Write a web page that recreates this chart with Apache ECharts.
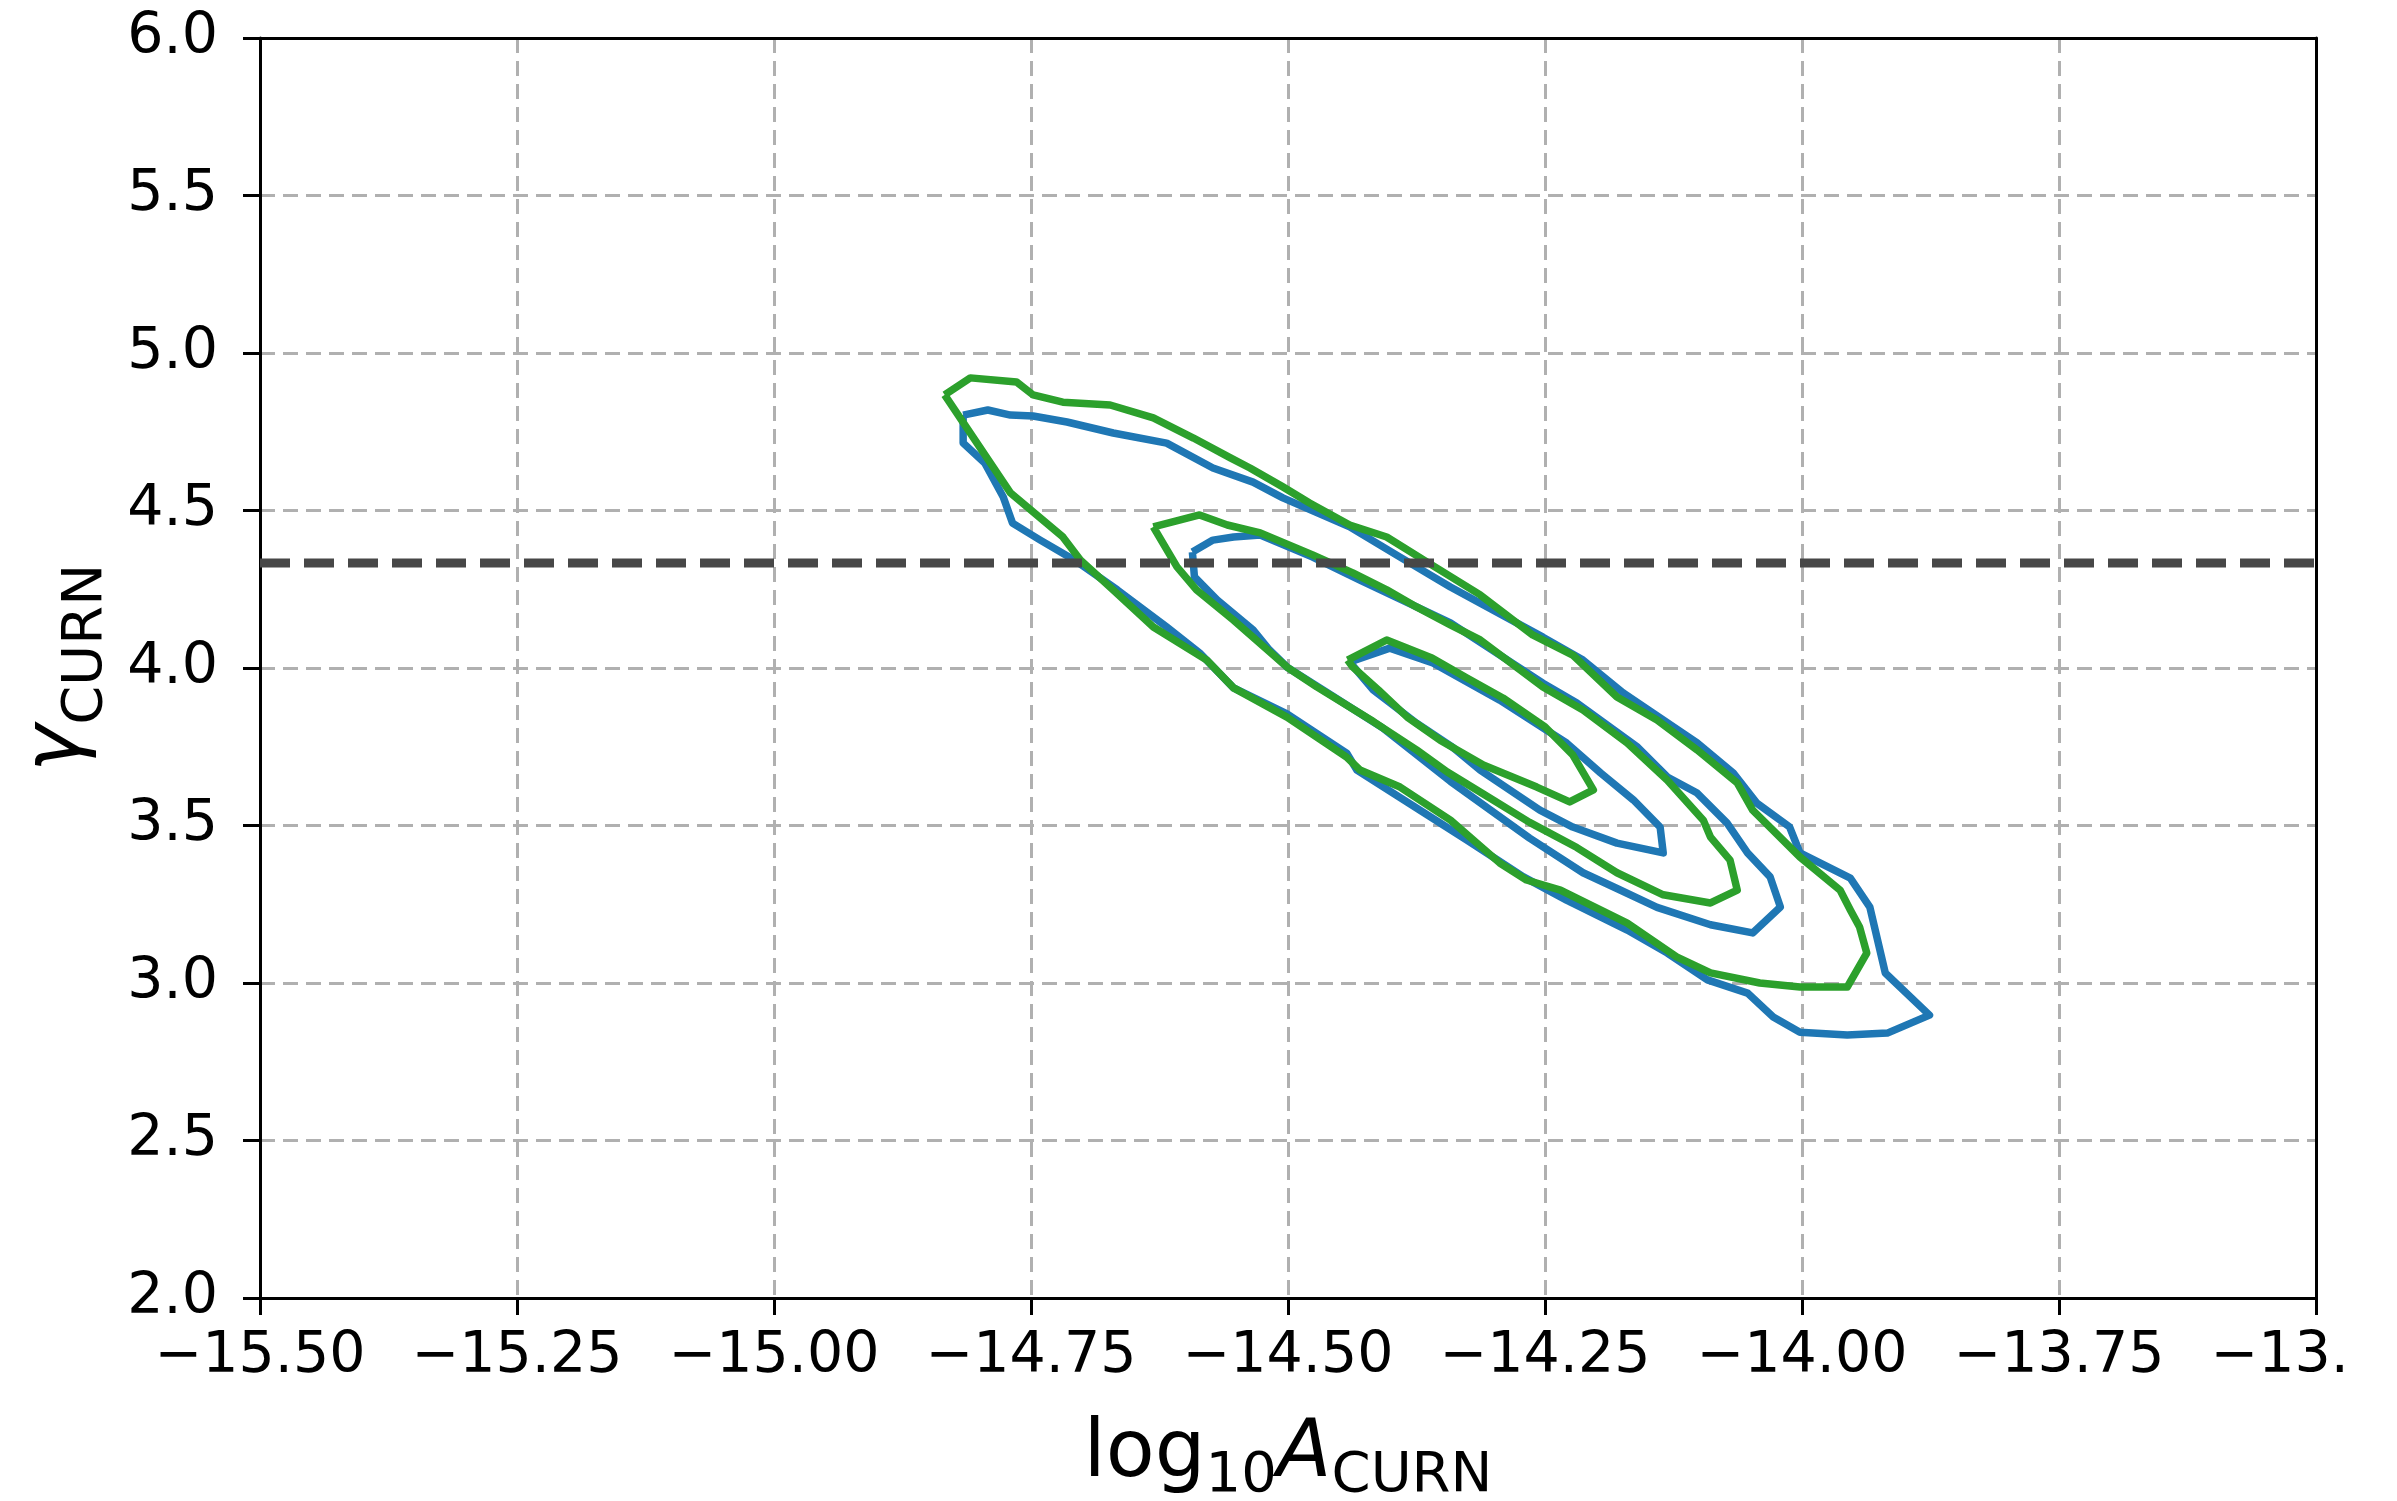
<!DOCTYPE html>
<html><head><meta charset="utf-8">
<script src="https://cdn.jsdelivr.net/npm/echarts@6/dist/echarts.min.js"></script>
<style>html,body{margin:0;padding:0;background:#fff}#c{width:2397px;height:1501px}</style>
</head><body><div id="c"></div>
<script>
// axis ranges / ticks
const xRange = [-15.5, -13.5];
const xStep = 0.25;
const yRange = [2.0, 6.0];
const yStep = 0.5;
// reference gamma (dashed line)
const refGamma = [4.333];

// contour polygons [log10A, gamma]
const blueOuter = [[-14.816,4.803],[-14.792,4.819],[-14.770,4.803],[-14.748,4.800],[-14.715,4.781],[-14.670,4.746],[-14.618,4.714],[-14.573,4.635],[-14.534,4.590],[-14.505,4.540],[-14.440,4.448],[-14.391,4.352],[-14.342,4.257],[-14.252,4.098],[-14.213,4.025],[-14.174,3.921],[-14.102,3.762],[-14.067,3.667],[-14.044,3.571],[-14.012,3.495],[-14.002,3.413],[-13.953,3.333],[-13.934,3.241],[-13.919,3.032],[-13.876,2.898],[-13.917,2.841],[-13.956,2.835],[-14.002,2.844],[-14.028,2.892],[-14.053,2.968],[-14.092,3.010],[-14.131,3.095],[-14.170,3.168],[-14.229,3.263],[-14.271,3.337],[-14.326,3.454],[-14.433,3.676],[-14.443,3.730],[-14.501,3.854],[-14.553,3.937],[-14.586,4.048],[-14.618,4.130],[-14.666,4.248],[-14.705,4.337],[-14.741,4.406],[-14.768,4.460],[-14.777,4.543],[-14.795,4.651],[-14.816,4.714]];
const blueMiddle = [[-14.593,4.368],[-14.573,4.406],[-14.553,4.416],[-14.527,4.422],[-14.476,4.352],[-14.430,4.279],[-14.342,4.143],[-14.252,3.952],[-14.219,3.889],[-14.160,3.749],[-14.131,3.654],[-14.102,3.603],[-14.073,3.508],[-14.053,3.413],[-14.031,3.337],[-14.021,3.241],[-14.048,3.159],[-14.089,3.185],[-14.141,3.240],[-14.180,3.300],[-14.213,3.350],[-14.265,3.460],[-14.342,3.640],[-14.408,3.810],[-14.456,3.910],[-14.501,4.003],[-14.518,4.057],[-14.534,4.121],[-14.569,4.216],[-14.591,4.289]];
const blueInner = [[-14.440,4.019],[-14.401,4.063],[-14.359,4.016],[-14.294,3.898],[-14.229,3.762],[-14.196,3.667],[-14.164,3.581],[-14.138,3.495],[-14.135,3.413],[-14.180,3.444],[-14.223,3.495],[-14.255,3.549],[-14.313,3.676],[-14.340,3.749],[-14.375,3.825],[-14.417,3.930]];
const greenOuter = [[-14.834,4.867],[-14.809,4.921],[-14.764,4.908],[-14.748,4.867],[-14.719,4.844],[-14.673,4.835],[-14.631,4.794],[-14.592,4.730],[-14.556,4.667],[-14.537,4.635],[-14.505,4.575],[-14.479,4.524],[-14.440,4.454],[-14.404,4.416],[-14.365,4.337],[-14.313,4.232],[-14.262,4.105],[-14.223,4.041],[-14.180,3.908],[-14.141,3.835],[-14.102,3.740],[-14.063,3.635],[-14.048,3.549],[-14.002,3.400],[-13.963,3.295],[-13.953,3.232],[-13.944,3.178],[-13.937,3.095],[-13.956,2.987],[-14.002,2.987],[-14.041,3.000],[-14.089,3.032],[-14.122,3.083],[-14.170,3.190],[-14.235,3.295],[-14.268,3.327],[-14.294,3.381],[-14.342,3.517],[-14.391,3.622],[-14.430,3.676],[-14.443,3.717],[-14.501,3.844],[-14.553,3.937],[-14.579,4.025],[-14.631,4.130],[-14.670,4.248],[-14.702,4.343],[-14.719,4.416],[-14.770,4.556]];
const greenMiddle = [[-14.631,4.448],[-14.586,4.486],[-14.559,4.454],[-14.527,4.429],[-14.476,4.359],[-14.437,4.302],[-14.404,4.248],[-14.375,4.194],[-14.342,4.137],[-14.313,4.089],[-14.252,3.940],[-14.213,3.867],[-14.170,3.762],[-14.131,3.644],[-14.096,3.517],[-14.089,3.463],[-14.070,3.390],[-14.063,3.295],[-14.089,3.254],[-14.135,3.280],[-14.180,3.350],[-14.219,3.430],[-14.265,3.510],[-14.310,3.600],[-14.345,3.670],[-14.375,3.740],[-14.417,3.830],[-14.472,3.940],[-14.501,4.003],[-14.553,4.152],[-14.589,4.248],[-14.608,4.321]];
const greenInner = [[-14.442,4.025],[-14.404,4.089],[-14.360,4.032],[-14.326,3.968],[-14.291,3.905],[-14.250,3.813],[-14.223,3.724],[-14.203,3.613],[-14.226,3.575],[-14.258,3.622],[-14.310,3.692],[-14.352,3.771],[-14.384,3.844],[-14.412,3.930],[-14.437,4.003]];

const FONT = 'DejaVu Sans';
const BLUE = '#1f77b4', GREEN = '#2ca02c';
const closed = a => a.concat([a[0]]);
const minus = s => s.replace('-', '\u2212');

function contour(name, data, color, z) {
  return {
    type: 'line', name, data: closed(data), symbol: 'none', showSymbol: false,
    smooth: false, silent: true, z, clip: true,
    lineStyle: { color, width: 7.5, join: 'round' }, itemStyle: { color }
  };
}
const spine = { show: true, onZero: false, lineStyle: { color: '#000', width: 3 } };
const gridLine = { show: true, showMinLine: false, showMaxLine: false,
                   lineStyle: { color: '#b0b0b0', width: 3, type: [15, 8] } };
const subRich = (pad) => ({
  a: { fontFamily: FONT, fontSize: 80, lineHeight: 96, verticalAlign: 'top', color: '#000' },
  i: { fontFamily: FONT, fontSize: 80, fontStyle: 'italic', lineHeight: 96, verticalAlign: 'top', color: '#000' },
  s: { fontFamily: FONT, fontSize: 56, lineHeight: 56, padding: [pad, 0, 0, 0], verticalAlign: 'top', color: '#000' }
});

const chart = echarts.init(document.getElementById('c'), null, { renderer: 'canvas', width: 2397, height: 1501 });
chart.setOption({
  animation: false,
  backgroundColor: '#ffffff',
  grid: { left: 260, right: 81, top: 38, bottom: 203, containLabel: false, outerBoundsMode: 'none' },
  xAxis: [{
    type: 'value', min: xRange[0], max: xRange[1], interval: xStep,
    axisLine: spine,
    axisTick: { length: 17, lineStyle: { color: '#000', width: 3 } },
    axisLabel: { margin: 31, fontSize: 57, fontFamily: FONT, color: '#000',
                 showMinLabel: true, showMaxLabel: true, formatter: v => minus(v.toFixed(2)) },
    splitLine: gridLine,
    name: '{a|log}{s|10}{i|A}{s|CURN}', nameLocation: 'middle', nameGap: 117,
    nameTextStyle: { fontFamily: FONT, color: '#000', rich: subRich(33) }
  }, {
    type: 'value', position: 'top', min: xRange[0], max: xRange[1], interval: xStep,
    axisLine: spine, axisTick: { show: false }, axisLabel: { show: false }, splitLine: { show: false }
  }],
  yAxis: [{
    type: 'value', min: yRange[0], max: yRange[1], interval: yStep,
    axisLine: spine,
    axisTick: { length: 17, lineStyle: { color: '#000', width: 3 } },
    axisLabel: { margin: 42, fontSize: 57, fontFamily: FONT, color: '#000',
                 showMinLabel: true, showMaxLabel: true, formatter: v => minus(v.toFixed(1)) },
    splitLine: gridLine,
    name: '{i|γ}{s|CURN}', nameLocation: 'middle', nameGap: 146, nameRotate: 90,
    nameTextStyle: { fontFamily: FONT, color: '#000', rich: subRich(40) }
  }, {
    type: 'value', position: 'right', min: yRange[0], max: yRange[1], interval: yStep,
    axisLine: spine, axisTick: { show: false }, axisLabel: { show: false }, splitLine: { show: false }
  }],
  // the reference figure is clipped just after "−13." at its right edge
  graphic: [{ type: 'rect', right: 0, top: 1310, shape: { width: 54, height: 110 },
              style: { fill: '#ffffff' }, z: 100, silent: true }],
  series: [
    contour('blue outer', blueOuter, BLUE, 2),
    contour('blue middle', blueMiddle, BLUE, 2),
    contour('blue inner', blueInner, BLUE, 2),
    contour('green outer', greenOuter, GREEN, 3),
    contour('green middle', greenMiddle, GREEN, 3),
    contour('green inner', greenInner, GREEN, 3),
    {
      type: 'line', name: 'ref', symbol: 'none', silent: true, z: 4,
      data: [[xRange[0], refGamma[0]], [xRange[1], refGamma[0]]],
      lineStyle: { color: '#474747', width: 9, type: [30, 14] }
    }
  ]
});
</script>
</body></html>
